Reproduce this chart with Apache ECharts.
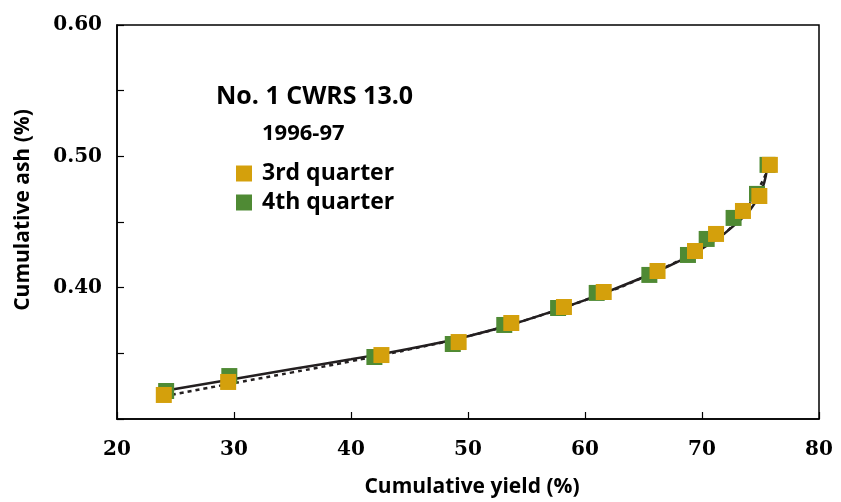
<!DOCTYPE html>
<html>
<head>
<meta charset="utf-8">
<script src="https://cdn.jsdelivr.net/npm/echarts@6/dist/echarts.min.js"></script>
<style>html,body{margin:0;padding:0;background:#fff}#c{width:841px;height:502px}</style>
</head>
<body>
<div id="c"></div>
<script>
// 3rd quarter points (yield %, ash %)
var q3Yield = [24.0, 29.5, 42.6, 49.2, 53.7, 58.2, 61.6, 66.2, 69.4, 71.2, 73.5, 74.9, 75.8];
var q3Ash   = [0.3183, 0.3282, 0.3487, 0.3586, 0.3731, 0.3853, 0.3967, 0.4127, 0.4279, 0.4409, 0.4584, 0.4698, 0.4935];
// 4th quarter points
var q4Yield = [24.2, 29.6, 42.0, 48.7, 53.1, 57.7, 61.0, 65.5, 68.8, 70.4, 72.7, 74.7, 75.6];
var q4Ash   = [0.3213, 0.3327, 0.3472, 0.3571, 0.3716, 0.3845, 0.3960, 0.4097, 0.4249, 0.4371, 0.4531, 0.4714, 0.4935];
// fitted curve for 4th quarter (solid)
var fit4X = [24.7, 30, 35, 40, 45, 50, 55, 60, 65, 68.8, 70.4, 72.7, 74.7, 75.5];
var fit4Y = [0.3225, 0.3305, 0.3380, 0.3455, 0.3535, 0.3630, 0.3755, 0.3905, 0.4080, 0.4235, 0.4320, 0.4470, 0.4670, 0.4874];
// fitted curve for 3rd quarter (dotted)
var fit3X = [24.7, 29.5, 35, 40, 45, 50, 55, 60, 65, 70, 73, 75.5];
var fit3Y = [0.3185, 0.3265, 0.3355, 0.3440, 0.3530, 0.3630, 0.3755, 0.3905, 0.4080, 0.4310, 0.4510, 0.4874];

var xTicks = {min: 20, max: 80, interval: 10};
var yTicks = {min: 0.30, max: 0.60, interval: 0.05};

function zip(a, b) { return a.map(function (v, i) { return [v, b[i]]; }); }

var numFont = {fontFamily: 'DejaVu Serif', fontWeight: 'bold', fontSize: 20, color: '#000'};
var txtFont = 'Open Sans';

var chart = echarts.init(document.getElementById('c'));
chart.setOption({
  animation: false,
  backgroundColor: '#fff',
  grid: {left: 117, right: 22, top: 25, bottom: 83, show: true, borderColor: '#000', borderWidth: 1.5, backgroundColor: 'transparent'},
  xAxis: {
    type: 'value', min: xTicks.min, max: xTicks.max, interval: xTicks.interval,
    axisLine: {lineStyle: {color: '#000', width: 1.5}},
    axisTick: {inside: true, length: 7, lineStyle: {color: '#000', width: 1.2}},
    axisLabel: Object.assign({margin: 21}, numFont),
    splitLine: {show: false}
  },
  yAxis: {
    type: 'value', min: yTicks.min, max: yTicks.max, interval: yTicks.interval,
    axisLine: {lineStyle: {color: '#000', width: 1.5}},
    axisTick: {inside: true, length: 7, lineStyle: {color: '#000', width: 1.2}},
    axisLabel: Object.assign({margin: 15, formatter: function (v) {
      var t = Math.round(v * 100);
      return (t % 10 === 0 && t >= 40) ? (t / 100).toFixed(2) : '';
    }}, numFont),
    splitLine: {show: false}
  },
  legend: {
    orient: 'vertical', left: 236, top: 162, padding: 0, itemWidth: 16, itemHeight: 16, itemGap: 6,
    data: [{name: '3rd quarter', icon: 'rect'}, {name: '4th quarter', icon: 'rect'}],
    textStyle: {fontFamily: txtFont, fontWeight: 'bold', fontSize: 23, lineHeight: 16, color: '#000', padding: [0, 0, 0, 5]}
  },
  graphic: [
    {type: 'text', left: 216, top: 84, style: {text: 'No. 1 CWRS 13.0', font: 'bold 25px "Open Sans"', fill: '#000'}},
    {type: 'text', left: 262, top: 123, style: {text: '1996-97', font: 'bold 22px "Open Sans"', fill: '#000'}},
    {type: 'text', x: 472, y: 487, style: {text: 'Cumulative yield (%)', font: 'bold 21px "Open Sans"', fill: '#000', textAlign: 'center', textVerticalAlign: 'middle'}},
    {type: 'text', x: 23, y: 210, rotation: Math.PI / 2, style: {text: 'Cumulative ash (%)', font: 'bold 21px "Open Sans"', fill: '#000', textAlign: 'center', textVerticalAlign: 'middle'}}
  ],
  series: [
    {name: 'fit 3rd', type: 'line', smooth: true, showSymbol: false, data: zip(fit3X, fit3Y),
      lineStyle: {color: '#231f20', width: 2.5, type: [4, 4]}, z: 1},
    {name: 'fit 4th', type: 'line', smooth: true, showSymbol: false, data: zip(fit4X, fit4Y),
      lineStyle: {color: '#231f20', width: 2.5}, z: 1},
    {name: '4th quarter', type: 'scatter', symbol: 'rect', symbolSize: 16, data: zip(q4Yield, q4Ash),
      itemStyle: {color: '#4F8A34', opacity: 1}, z: 2},
    {name: '3rd quarter', type: 'scatter', symbol: 'rect', symbolSize: 16, data: zip(q3Yield, q3Ash),
      itemStyle: {color: '#D4A00C', opacity: 1}, z: 3}
  ]
});
</script>
</body>
</html>
